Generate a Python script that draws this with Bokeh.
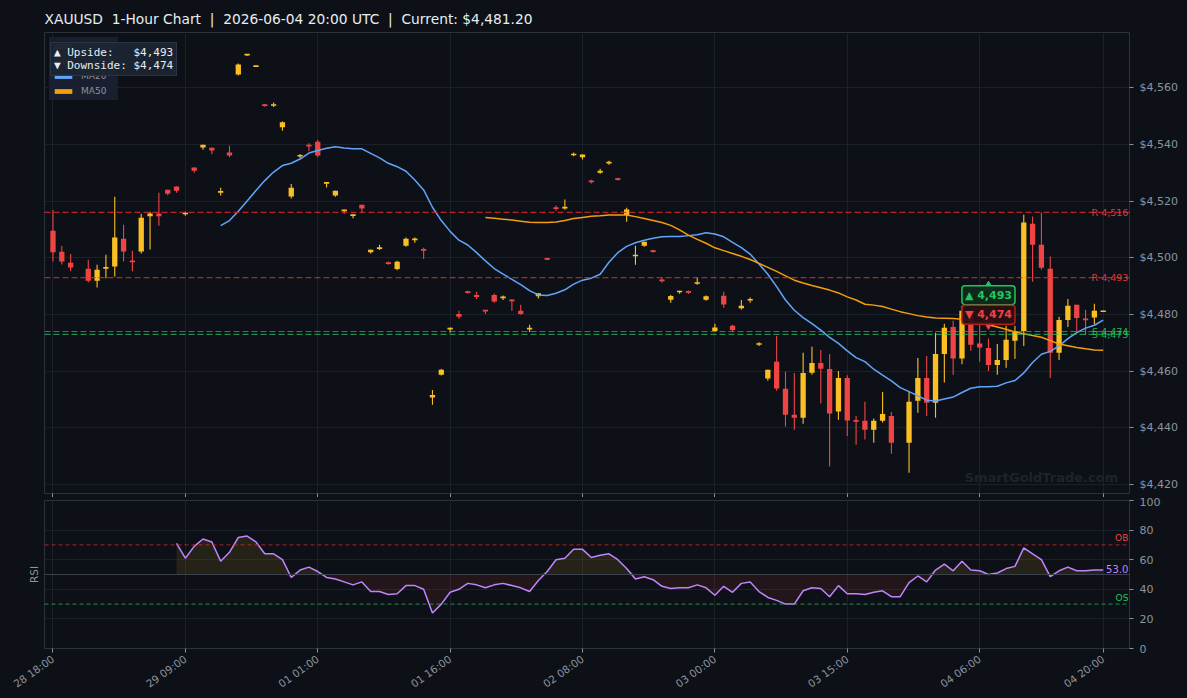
import numpy as np
from bokeh.plotting import figure
from bokeh.models import (ColumnDataSource, Span, Label, Legend, LegendItem, FixedTicker,
                          NumeralTickFormatter, Range1d, Title)
from bokeh.layouts import column
from bokeh.embed import file_html
from bokeh.resources import INLINE

# ---------------- data ----------------
N = None
opens = [4509.5, 4502.1, 4498.2, N, 4496.1, 4491.9, 4496.2, 4496.9, 4506.7, 4499.0,
         4502.2, 4514.6, 4515.6, 4524.0, 4525.1, 4515.4, 4531.8, 4538.9, 4538.8, 4523.0,
         4537.1, 4564.6, 4571.4, 4567.4, 4554.0, 4553.6, 4546.0, 4521.6, 4535.8, 4539.8,
         4540.9, 4526.2, 4521.9, 4516.5, 4514.8, 4518.7, 4501.9, 4503.2, 4498.3, 4496.0,
         4504.2, 4506.3, 4503.0, 4450.7, 4458.8, 4474.8, 4480.2, 4488.1, 4486.9, 4481.6,
         4486.9, 4485.8, 4485.2, 4481.3, 4474.8, 4486.4, 4499.8, 4517.7, 4517.4, 4536.1,
         4535.4, 4527.2, 4530.0, 4533.3, 4527.9, 4515.1, 4500.6, 4504.2, 4502.6, 4492.2,
         4485.2, 4487.8, 4488.2, 4490.9, 4485.2, 4474.2, 4486.6, 4476.0, 4482.2, 4485.0,
         4469.4, 4457.4, 4463.3, 4453.8, 4444.7, 4443.6, 4459.5, 4462.9, 4460.8, 4445.8,
         4457.6, 4442.7, 4442.5, 4439.4, 4442.5, 4444.2, N, 4434.8, 4449.6, 4457.6,
         4448.9, 4466.1, 4475.6, 4464.5, 4481.3, 4469.8, 4468.2, 4462.2, 4464.0, 4470.7,
         4474.2, 4512.0, 4504.6, 4496.1, 4466.5, 4478.1, 4483.4, 4478.5, 4478.9, 4481.1]
highs = [4516.8, 4504.2, 4501.3, N, 4499.3, 4497.5, 4501.1, 4521.5, 4511.6, 4502.5,
         4515.5, 4516.2, 4522.9, 4524.0, 4525.1, 4516.2, 4531.8, 4539.8, 4538.8, 4524.7,
         4539.5, 4568.5, 4571.8, 4567.7, 4554.2, 4554.7, 4548.0, 4526.0, 4536.6, 4540.4,
         4541.6, 4526.7, 4523.6, 4516.9, 4515.2, 4518.7, 4502.8, 4504.6, 4498.7, 4498.9,
         4507.1, 4507.1, 4503.5, 4453.4, 4460.8, 4475.4, 4481.3, 4488.4, 4488.0, 4481.6,
         4487.4, 4486.7, 4485.3, 4483.4, 4476.4, 4487.5, 4500.0, 4518.4, 4520.5, 4537.1,
         4536.4, 4527.5, 4531.4, 4534.2, 4528.2, 4517.6, 4504.2, 4505.6, 4502.8, 4493.2,
         4486.9, 4488.4, 4488.5, 4493.1, 4486.7, 4476.7, 4488.0, 4476.4, 4485.1, 4486.0,
         4470.2, 4460.5, 4472.5, 4459.8, 4459.4, 4466.5, 4468.6, 4467.5, 4466.1, 4460.1,
         4458.6, 4444.2, 4449.2, 4443.3, 4452.7, 4445.6, N, 4452.7, 4464.7, 4465.4,
         4473.6, 4476.7, 4477.8, 4483.1, 4481.9, 4477.2, 4471.5, 4469.6, 4476.0, 4476.0,
         4515.2, 4514.5, 4515.9, 4500.4, 4479.2, 4485.5, 4483.4, 4481.6, 4483.8, 4481.3]
lows = [4498.7, 4497.6, 4495.2, N, 4491.3, 4489.5, 4492.8, 4493.3, 4498.7, 4495.2,
        4501.5, 4502.9, 4511.3, 4522.0, 4522.9, 4514.8, 4530.0, 4538.1, 4536.5, 4521.9,
        4535.4, 4564.2, 4571.1, 4567.2, 4553.2, 4553.1, 4544.8, 4520.9, 4535.2, 4537.5,
        4535.4, 4524.8, 4521.5, 4515.6, 4513.9, 4515.9, 4501.5, 4502.7, 4497.5, 4495.6,
        4503.9, 4505.3, 4499.6, 4448.2, 4458.5, 4473.6, 4478.5, 4487.3, 4485.5, 4480.2,
        4484.1, 4485.1, 4481.3, 4479.9, 4473.8, 4485.6, 4499.1, 4516.6, 4516.9, 4535.8,
        4534.6, 4526.2, 4529.6, 4532.8, 4527.2, 4512.7, 4497.5, 4503.9, 4501.8, 4491.2,
        4484.1, 4487.3, 4487.2, 4490.5, 4484.8, 4474.0, 4482.4, 4473.9, 4481.8, 4484.1,
        4468.9, 4456.6, 4453.1, 4440.5, 4439.4, 4441.5, 4458.8, 4448.6, 4426.4, 4442.9,
        4437.2, 4434.1, 4435.9, 4434.8, 4441.9, 4430.9, N, 4424.2, 4445.4, 4444.2,
        4443.6, 4456.0, 4458.8, 4462.5, 4467.2, 4463.3, 4460.1, 4458.8, 4461.2, 4464.4,
        4468.9, 4491.5, 4495.8, 4457.6, 4464.0, 4475.6, 4473.9, 4472.8, 4476.6, 4481.0]
closes = [4501.9, 4498.7, 4496.6, N, 4491.9, 4495.8, 4496.6, 4507.1, 4502.2, 4498.5,
          4514.1, 4515.6, 4514.6, 4522.6, 4523.6, 4515.8, 4530.7, 4539.8, 4537.8, 4523.4,
          4536.0, 4568.1, 4571.8, 4567.7, 4553.6, 4554.1, 4547.8, 4524.7, 4536.1, 4539.2,
          4536.0, 4526.6, 4523.6, 4516.9, 4515.2, 4517.4, 4502.8, 4503.6, 4497.9, 4498.6,
          4506.7, 4506.7, 4502.6, 4451.6, 4460.5, 4475.2, 4479.2, 4487.7, 4486.2, 4481.1,
          4484.6, 4486.2, 4484.8, 4480.2, 4475.2, 4487.5, 4499.4, 4517.3, 4518.0, 4536.7,
          4536.4, 4526.6, 4530.7, 4533.7, 4527.5, 4517.0, 4501.0, 4505.6, 4502.1, 4491.8,
          4486.5, 4488.4, 4487.8, 4491.3, 4486.4, 4475.4, 4483.5, 4474.5, 4483.1, 4485.4,
          4469.8, 4460.5, 4453.9, 4444.7, 4443.6, 4459.4, 4462.9, 4460.9, 4445.1, 4457.6,
          4442.6, 4442.3, 4439.4, 4442.5, 4444.9, 4434.8, N, 4449.2, 4457.6, 4448.9,
          4466.1, 4475.3, 4464.5, 4481.3, 4469.3, 4468.4, 4462.2, 4464.0, 4471.1, 4474.2,
          4512.4, 4504.6, 4496.5, 4466.5, 4478.1, 4483.1, 4478.8, 4478.0, 4481.3, 4481.2]

ma20 = [N] * 19 + [
    4511.3, 4513.1, 4516.4, 4520.0, 4523.7, 4527.2, 4530.2, 4532.5, 4533.3, 4534.8,
    4536.9, 4537.8, 4538.6, 4539.1, 4538.7, 4538.4, 4538.4, 4536.8, 4535.2, 4533.3,
    4532.1, 4530.5, 4527.4, 4523.9, 4517.8, 4513.1, 4509.3, 4506.2, 4504.5, 4501.8,
    4498.9, 4496.2, 4494.2, 4492.4, 4490.5, 4488.4, 4486.9, 4486.7, 4487.5, 4488.7,
    4490.7, 4492.1, 4492.8, 4494.2, 4498.4, 4501.8, 4504.0, 4505.3, 4506.2, 4506.9,
    4507.4, 4507.5, 4507.5, 4507.8, 4508.1, 4508.8, 4508.4, 4507.4, 4505.4, 4503.6,
    4501.3, 4497.8, 4494.2, 4489.8, 4485.1, 4481.5, 4478.9, 4476.8, 4474.5, 4471.9,
    4469.8, 4467.2, 4464.8, 4463.4, 4460.7, 4458.6, 4456.6, 4454.2, 4452.8, 4451.3,
    4449.8, 4449.5, 4450.2, 4450.9, 4452.5, 4454.0, 4454.5, 4454.5, 4454.7, 4455.9,
    4456.7, 4459.4, 4463.1, 4466.0, 4467.0, 4468.9, 4471.5, 4473.6, 4475.2, 4476.2,
    4478.0]
ma50 = [N] * 49 + [
    4514.2, 4513.9, 4513.6, 4513.3, 4512.9, 4512.5, 4512.4, 4512.4, 4512.6, 4513.1,
    4513.8, 4514.2, 4514.6, 4514.8, 4515.1, 4515.1, 4515.1, 4514.5, 4513.8, 4513.1,
    4512.4, 4511.4, 4509.8, 4508.0, 4506.5, 4505.1, 4503.5, 4502.5, 4501.5, 4500.5,
    4499.4, 4498.0, 4496.6, 4495.2, 4493.6, 4492.1, 4491.1, 4490.2, 4489.4, 4488.6,
    4487.6, 4486.2, 4485.1, 4483.6, 4483.3, 4482.8, 4481.9, 4481.0, 4480.3, 4479.6,
    4479.1, 4478.8, 4478.7, 4478.6, 4478.3, 4477.8, 4477.1, 4476.4, 4475.6, 4474.8,
    4473.8, 4473.2, 4472.6, 4472.0, 4470.8, 4469.6, 4469.0, 4468.4, 4467.9, 4467.5,
    4467.4]
rsi = [N] * 14 + [
    71, 61, 69, 74, 72, 59, 65, 75, 76, 72,
    64, 64, 60, 48, 53, 55, 52, 48, 47, 45,
    43, 45, 38.5, 38.5, 36.5, 37, 42.5, 42.5, 40, 24,
    30, 38, 40, 44, 43, 41, 43, 44, 42.5, 41,
    38.5, 46, 52, 60, 61, 67, 67, 61.5, 63, 64,
    60, 54, 47, 48.5, 46.5, 42, 40.5, 41, 41, 43,
    41, 36, 42, 38, 44, 45, 38.5, 34.5, 32.5, 30,
    30, 39, 41, 40.5, 35, 42.5, 37, 37, 36.5, 38,
    39, 35, 35, 44.5, 49, 45, 53, 57, 52.5, 59,
    53, 52.5, 50, 51, 54, 55.5, 68, 64, 60, 48.5,
    52.5, 55, 52.5, 52.5, 53, 53]

tick_idx = [0, 15, 30, 45, 60, 75, 90, 105, 119]
tick_labels = ["28 18:00", "29 09:00", "01 01:00", "01 16:00", "02 08:00",
               "03 00:00", "03 15:00", "04 06:00", "04 20:00"]
resistance = [4516, 4493]
support = [4474, 4473]
upside, downside = 4493, 4474
current = 4481.20

# ---------------- style ----------------
BG = "#0d1117"
GRID = "#1b2029"
FRAME = "#2b323c"
TICK = "#8b949e"
BULL = "#fbbf24"
BEAR = "#ef4444"
MA20C = "#60a5fa"
MA50C = "#f59e0b"
RSIC = "#c084fc"
GREEN = "#22c55e"
FONT = "DejaVu Sans"
NB = "\u00a0"
XR = 121.85  # right-edge anchor for edge texts

n = len(closes)
x = np.arange(n, dtype=float)
o = np.array([np.nan if v is None else v for v in opens])
h = np.array([np.nan if v is None else v for v in highs])
l = np.array([np.nan if v is None else v for v in lows])
c = np.array([np.nan if v is None else v for v in closes])
valid = ~np.isnan(c)
top = np.maximum(o, c)
bot = np.minimum(o, c)
small = (top - bot) < 0.6
mid = (top + bot) / 2
top = np.where(small, mid + 0.3, top)
bot = np.where(small, mid - 0.3, bot)

p = figure(width=1187, height=497, x_range=Range1d(-0.96, 121.98), y_range=Range1d(4416.9, 4579.4),
           y_axis_location="right", toolbar_location=None, output_backend="svg",
           background_fill_color=BG, border_fill_color=BG, min_border_left=44,
           min_border_right=58, min_border_top=32, min_border_bottom=0,
           outline_line_color=FRAME)
p.title.text = (f"XAUUSD{NB} 1-Hour Chart{NB} |{NB} 2026-06-04 20:00 UTC{NB} |{NB} "
                f"Current: ${current:,.2f}")
p.title.text_color = "#e6edf3"
p.title.text_font = FONT
p.title.text_font_size = "13.8px"
p.title.text_font_style = "normal"
p.title.align = "left"
p.title.offset = 0
p.title.standoff = 12

for side, col in ((True, BULL), (False, BEAR)):
    m = valid & ((c >= o) == side)
    src = ColumnDataSource(dict(x=x[m], h=h[m], l=l[m], t=top[m], b=bot[m]))
    p.segment(x0="x", y0="h", x1="x", y1="l", source=src, line_color=col, line_width=1.1)
    p.vbar(x="x", width=0.6, top="t", bottom="b", source=src, fill_color=col, line_color=None)

ma20_arr = np.array([np.nan if v is None else v for v in ma20])
ma50_arr = np.array([np.nan if v is None else v for v in ma50])
p.line(x, ma20_arr, line_color=MA20C, line_width=1.5)
p.line(x, ma50_arr, line_color=MA50C, line_width=1.5)

for lv in resistance:
    p.add_layout(Span(location=lv, dimension="width", line_color="#dc2626", line_dash="6 3",
                      line_width=1.2, line_alpha=0.85))
for lv in support:
    p.add_layout(Span(location=lv, dimension="width", line_color=GREEN, line_dash="6 3",
                      line_width=1.2, line_alpha=0.7))

p.scatter([106], [4489.5], marker="triangle", size=11, color=GREEN)
p.scatter([106], [4477.0], marker="inverted_triangle", size=11, color=BEAR)

# legend (swatches drawn as filled bars)
items = []
for name, col in (("Bullish", BULL), ("Bearish", BEAR), ("MA20", MA20C), ("MA50", MA50C)):
    sw = ColumnDataSource(dict(x=[np.nan], t=[np.nan], b=[np.nan]))
    rr = p.vbar(x="x", width=0.6, top="t", bottom="b", source=sw, fill_color=col, line_color=None)
    items.append(LegendItem(label=name, renderers=[rr]))
legend = Legend(items=items, location="top_left", background_fill_color="#1a2130",
                background_fill_alpha=0.95, border_line_alpha=0, label_text_color=TICK,
                label_text_font=FONT, label_text_font_size="9px", glyph_width=22,
                glyph_height=6, label_height=12, spacing=3, padding=3, margin=5,
                label_standoff=7)
p.add_layout(legend)

# upside / downside info box, drawn above the legend
ghost_src = ColumnDataSource(dict(x=[np.nan], y=[np.nan]))
ghost = p.scatter(x="x", y="y", source=ghost_src, size=1, fill_alpha=0, line_alpha=0)
info = Legend(items=[LegendItem(label=f"▲ Upside:{NB}{NB}{NB}${upside:,}", renderers=[ghost]),
                     LegendItem(label=f"▼ Downside:{NB}${downside:,}", renderers=[ghost])],
              location=(6, 417), glyph_width=0, glyph_height=11, label_standoff=0,
              label_height=11, spacing=-2, padding=3, margin=0,
              label_text_font="DejaVu Sans Mono", label_text_font_size="11px",
              label_text_color="#e6edf3", background_fill_color="#1c2433",
              background_fill_alpha=0.97, border_line_color="#3b4657", border_line_width=1)
p.add_layout(info)

for lv in resistance:
    p.add_layout(Label(x=XR, y=lv, text=f"R {lv:,}", text_baseline="middle", text_align="right",
                       text_font=FONT, text_font_size="9.5px", text_color=BEAR, text_alpha=0.9))
for lv in support:
    p.add_layout(Label(x=XR, y=lv, text=f"S {lv:,}", text_baseline="middle", text_align="right",
                       text_font=FONT, text_font_size="9.5px", text_color=GREEN, text_alpha=0.9))

p.add_layout(Label(x=106, y=4486.8, text=f"▲ {upside:,}", text_align="center", text_baseline="middle",
                   text_font=FONT, text_font_style="bold", text_font_size="11px", text_color=GREEN,
                   background_fill_color="#0f2a1b", background_fill_alpha=0.95,
                   border_line_color=GREEN, border_line_width=1.5, padding=3, border_radius=3,
                   level="overlay"))
p.add_layout(Label(x=106, y=4479.9, text=f"▼ {downside:,}", text_align="center", text_baseline="middle",
                   text_font=FONT, text_font_style="bold", text_font_size="11px", text_color=BEAR,
                   background_fill_color="#2a1014", background_fill_alpha=0.95,
                   border_line_color="#b91c1c", border_line_width=1.5, padding=3, border_radius=3,
                   level="overlay"))

p.add_layout(Label(x=120.7, y=4422.7, text="SmartGoldTrade.com", text_align="right", text_baseline="middle",
                   text_font=FONT, text_font_style="bold", text_font_size="13px", text_color="#1d232c"))

p.xaxis.ticker = FixedTicker(ticks=tick_idx)
p.xaxis.major_label_overrides = {t: "" for t in tick_idx}
p.xaxis.major_label_text_font_size = "0px"
p.xaxis.major_label_standoff = 0
p.xaxis.major_tick_out = 4
p.xaxis.major_tick_in = 0
p.xaxis.minor_tick_line_color = None
p.xaxis.axis_line_color = None
p.xaxis.major_tick_line_color = TICK

p.yaxis.ticker = FixedTicker(ticks=[4420, 4440, 4460, 4480, 4500, 4520, 4540, 4560])
p.yaxis.formatter = NumeralTickFormatter(format="$0,0")
p.yaxis.major_label_text_color = TICK
p.yaxis.major_label_text_font = FONT
p.yaxis.major_label_text_font_size = "11px"
p.yaxis.major_tick_out = 4
p.yaxis.major_tick_in = 0
p.yaxis.minor_tick_line_color = None
p.yaxis.axis_line_color = None
p.yaxis.major_tick_line_color = TICK
p.yaxis.major_label_standoff = 6
p.xgrid.grid_line_color = GRID
p.ygrid.grid_line_color = GRID

# ---------------- RSI panel ----------------
r = figure(width=1187, height=201, x_range=p.x_range, y_range=Range1d(0, 100),
           y_axis_location="right", toolbar_location=None, output_backend="svg",
           background_fill_color=BG, border_fill_color=BG, min_border_left=44,
           min_border_right=58, min_border_top=3, min_border_bottom=50,
           outline_line_color=FRAME)
rs = np.array([np.nan if v is None else v for v in rsi])
rm = ~np.isnan(rs)
xr = x[rm]
rv = rs[rm]
r.varea(x=xr, y1=np.full(len(rv), 50.0), y2=np.maximum(rv, 50), fill_color=BULL, fill_alpha=0.1)
r.varea(x=xr, y1=np.minimum(rv, 50), y2=np.full(len(rv), 50.0), fill_color=BEAR, fill_alpha=0.1)
r.add_layout(Span(location=70, dimension="width", line_color="#dc2626", line_dash="4 3",
                  line_width=1, line_alpha=0.8))
r.add_layout(Span(location=30, dimension="width", line_color=GREEN, line_dash="4 3",
                  line_width=1, line_alpha=0.7))
r.add_layout(Span(location=50, dimension="width", line_color="#3a414c", line_width=1))
r.line(xr, rv, line_color=RSIC, line_width=1.5)

r.add_layout(Label(x=XR, y=74.5, text="OB", text_baseline="middle", text_align="right",
                   text_font=FONT, text_font_size="9px", text_color=BEAR))
r.add_layout(Label(x=XR, y=34, text="OS", text_baseline="middle", text_align="right",
                   text_font=FONT, text_font_size="9px", text_color=GREEN))
r.add_layout(Label(x=XR, y=54, text=f"{rv[-1]:.1f}", text_baseline="middle", text_align="right",
                   text_font=FONT, text_font_size="10px", text_color=RSIC))

r.add_layout(Title(text="RSI", align="center", text_color=TICK, text_font=FONT,
                   text_font_size="10.5px", text_font_style="normal"), "left")

r.xaxis.ticker = FixedTicker(ticks=tick_idx)
r.xaxis.major_label_overrides = {t: s for t, s in zip(tick_idx, tick_labels)}
r.xaxis.major_label_orientation = 0.62
r.xaxis.major_label_text_color = TICK
r.xaxis.major_label_text_font = FONT
r.xaxis.major_label_text_font_size = "10.5px"
r.xaxis.major_tick_out = 4
r.xaxis.major_tick_in = 0
r.xaxis.minor_tick_line_color = None
r.xaxis.axis_line_color = None
r.xaxis.major_tick_line_color = TICK

r.yaxis.ticker = FixedTicker(ticks=[0, 20, 40, 60, 80, 100])
r.yaxis.major_label_text_color = TICK
r.yaxis.major_label_text_font = FONT
r.yaxis.major_label_text_font_size = "11px"
r.yaxis.major_tick_out = 4
r.yaxis.major_tick_in = 0
r.yaxis.minor_tick_line_color = None
r.yaxis.axis_line_color = None
r.yaxis.major_tick_line_color = TICK
r.yaxis.major_label_standoff = 6
r.xgrid.grid_line_color = GRID
r.ygrid.grid_line_color = GRID

layout = column(p, r, spacing=0, styles={"background-color": BG})
html = file_html(layout, INLINE)
html = html.replace("<body>", f'<body style="margin:0;background:{BG};">')
open("out.html", "w").write(html)
